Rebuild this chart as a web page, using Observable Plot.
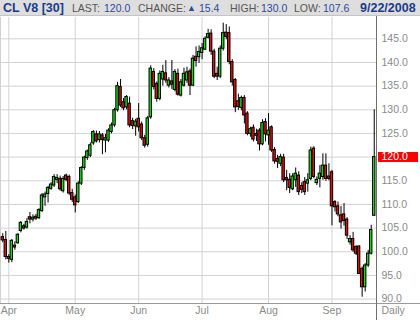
<!DOCTYPE html>
<html><head><meta charset="utf-8">
<script src="https://cdn.jsdelivr.net/npm/d3@7"></script>
<script src="https://cdn.jsdelivr.net/npm/@observablehq/plot@0.6"></script>
<style>
body{margin:0;background:#fff;width:420px;height:320px;overflow:hidden;font-family:"Liberation Sans",Arial,sans-serif}
#hdr{position:relative;height:15px;background:#dedede;border-bottom:1px solid #c4c4c4}
#hdr span{position:absolute;top:0;line-height:16px;white-space:nowrap;font-size:10.5px;color:#555}
#hdr .t{font-weight:bold;font-size:12.5px;color:#1b3a8c}
#hdr .v{color:#2a4a9a}
#chart svg{display:block}
</style></head>
<body>
<div id="hdr">
<span class="t" style="left:3px">CL V8 [30]</span>
<span style="left:72px">LAST:</span><span class="v" style="left:104px">120.0</span>
<span style="left:138px">CHANGE:</span><span class="v" style="left:187px;font-size:9px">▲</span><span class="v" style="left:199px">15.4</span>
<span style="left:230px">HIGH:</span><span class="v" style="left:261px">130.0</span>
<span style="left:294px">LOW:</span><span class="v" style="left:323px">107.6</span>
<span class="t" style="left:360px">9/22/2008</span>
</div>
<div id="chart"></div>
<script>
// Daily candles (trading-day index, first = Mar 28, 2008)
const firstIndex = -2;
const open  = [103.1,102.5,98.9,98.3,101.3,101.8,104.4,105.4,105.1,107.3,106.8,107.4,107.1,108.6,111.5,112.2,113.3,114.0,115.2,115.4,112.8,116.1,115.8,112.4,111.5,110.5,114.4,117.7,119.8,120.3,122.9,124.8,123.6,124.6,123.5,123.5,125.3,126.7,129.9,134.8,131.6,130.5,131.3,127.6,126.5,128.1,126.9,124.0,122.6,128.4,138.0,135.5,132.3,136.4,137.7,135.1,136.0,134.2,137.6,133.0,135.1,136.2,138.1,135.1,141.2,141.1,142.0,142.7,145.2,146.1,142.3,137.6,137.0,142.9,146.3,146.2,140.1,136.3,131.8,130.4,132.5,129.2,124.9,126.2,124.9,125.6,122.7,127.4,124.6,126.3,121.5,119.6,118.6,119.9,115.6,115.2,113.2,115.1,116.1,113.9,114.7,114.4,115.4,121.8,114.5,115.4,115.8,118.2,115.9,116.8,110.5,109.6,107.7,107.9,106.8,102.0,102.7,101.0,101.1,96.4,92.5,97.1,99.6,107.6];
const high  = [103.8,104.3,99.4,102.6,102.1,103.8,106.4,105.8,107.0,108.3,107.8,107.9,109.1,112.3,112.6,113.8,114.6,116.3,116.3,116.0,115.9,116.4,116.2,113.2,112.0,114.8,118.0,120.2,121.5,123.0,125.6,125.5,125.4,125.0,124.8,126.0,127.2,130.3,135.8,136.4,132.4,133.0,132.7,128.2,128.0,131.3,127.4,124.6,128.6,139.3,138.7,135.9,138.2,139.4,140.4,136.8,140.4,138.5,138.6,136.4,138.8,139.0,138.6,141.5,143.3,143.5,144.0,145.4,147.0,146.9,142.8,139.0,143.5,148.3,148.0,147.5,140.6,136.6,133.3,132.9,133.0,129.6,126.3,126.8,125.9,126.0,127.9,128.1,129.2,126.6,122.0,120.4,120.6,120.6,117.2,116.5,116.5,117.7,116.9,114.6,115.7,116.5,122.1,122.2,115.8,118.2,120.7,120.7,118.6,117.2,110.8,110.5,109.6,110.2,107.2,103.4,104.1,101.3,101.3,96.8,97.5,100.3,105.6,130.0];
const low   = [101.9,98.3,97.6,97.7,100.3,101.6,104.0,104.6,104.8,105.9,106.3,106.6,106.8,108.3,109.6,110.3,113.0,113.6,114.4,112.8,112.4,114.8,111.9,110.4,108.2,110.2,114.0,117.2,119.3,119.9,122.5,123.0,123.0,120.5,120.9,123.1,124.9,126.3,129.5,130.5,129.8,130.0,126.2,125.8,124.4,125.3,123.5,121.9,122.1,128.0,134.2,131.6,131.9,135.0,135.6,134.6,134.3,133.8,132.9,132.7,134.8,135.6,133.0,134.9,139.0,139.8,140.6,142.5,145.0,141.5,136.6,136.2,136.6,142.4,144.8,139.5,135.0,129.4,129.9,129.8,127.0,124.5,124.2,123.2,123.3,121.3,122.4,123.2,122.5,121.0,118.5,117.6,118.0,114.6,112.9,112.3,112.9,113.6,111.9,112.3,111.9,112.6,115.0,115.4,114.0,113.5,115.1,114.9,115.0,105.5,108.4,107.4,104.8,105.4,102.6,101.4,99.9,99.2,95.2,90.4,91.5,96.7,99.3,107.6];
const close = [102.4,98.9,98.5,102.3,100.9,103.6,106.1,104.9,106.3,106.8,107.2,107.0,108.8,111.9,112.1,113.5,114.2,115.8,115.6,113.2,115.4,115.2,112.3,111.0,109.8,114.4,117.7,119.9,121.2,122.5,125.3,123.3,124.8,123.6,124.0,125.6,126.7,129.9,135.0,130.9,130.3,132.7,126.7,126.6,127.5,126.3,124.0,122.4,128.2,138.7,134.8,132.3,137.6,138.0,136.2,136.2,135.3,138.0,133.2,135.8,137.6,137.9,135.1,140.8,140.3,142.2,143.0,145.0,146.0,142.3,137.0,137.0,142.9,146.2,145.4,140.1,135.8,130.5,130.6,132.5,128.8,124.9,125.9,123.7,124.5,122.7,127.2,124.8,125.6,121.4,119.1,119.0,120.0,115.1,115.1,113.5,115.9,116.5,112.6,113.1,112.6,115.1,121.4,115.8,115.2,116.5,118.2,115.4,115.4,109.6,109.4,107.9,106.2,106.5,103.4,102.7,100.3,99.6,95.3,92.5,97.1,99.6,104.6,120.0];

const priceTicks = [90,95,100,105,110,115,120,125,130,135,140,145];
const monthLabels = ["Apr","May","Jun","Jul","Aug","Sep"];
const monthTicks = [0,22,43,64,86,107];
const lastPrice = 120.0;

const candles = close.map((c, k) => ({i: firstIndex + k, open: open[k], high: high[k], low: low[k], close: c}));
const xDomain = [-2.75, 121.75];
const yDomain = [89.07, 149.5];
const grid = "#d2d2d2", lab = "#8a8a8a";

const chart = Plot.plot({
  width: 420, height: 304,
  marginLeft: 0, marginRight: 44, marginTop: 1, marginBottom: 17,
  x: {domain: xDomain, axis: null},
  y: {domain: yDomain, axis: null},
  style: {background: "transparent", fontFamily: "Liberation Sans, Arial, sans-serif", overflow: "visible"},
  marks: [
    Plot.ruleY(priceTicks, {stroke: grid}),
    Plot.ruleX(monthTicks, {stroke: grid}),
    Plot.ruleX([xDomain[0]], {stroke: grid}),
    Plot.ruleX(candles, {x: "i", y1: "low", y2: "high", stroke: "#000"}),
    Plot.rect(candles, {
      x1: d => d.i - 0.4, x2: d => d.i + 0.4,
      y1: "open", y2: "close",
      fill: d => d.close >= d.open ? "#10dd10" : "#dd1010",
      stroke: "#000", strokeWidth: 1
    }),
    Plot.ruleY([yDomain[0]], {stroke: "#9a9a9a", insetRight: -44}),
    Plot.ruleX([xDomain[1]], {stroke: "#707070", insetTop: -1, insetBottom: -17}),
    Plot.text(priceTicks, {y: d => d, frameAnchor: "right", dx: 5, textAnchor: "start",
      text: d => d.toFixed(1), fill: lab, fontSize: 10.5}),
    Plot.ruleY([lastPrice], {stroke: "#ff0000", strokeWidth: 10, insetLeft: 378, insetRight: -42}),
    Plot.text([lastPrice], {y: d => d, frameAnchor: "right", dx: 5, textAnchor: "start",
      text: d => d.toFixed(1), fill: "#fff", fontSize: 10.5}),
    Plot.text(monthTicks, {x: d => d, frameAnchor: "bottom", dy: 10,
      text: (d, k) => monthLabels[k], fill: lab, fontSize: 10.5}),
    Plot.text(["Daily"], {frameAnchor: "bottom-right", dx: 5, dy: 10, textAnchor: "start",
      text: d => d, fill: lab, fontSize: 10.5})
  ]
});
document.getElementById("chart").appendChild(chart);
</script>
</body></html>
